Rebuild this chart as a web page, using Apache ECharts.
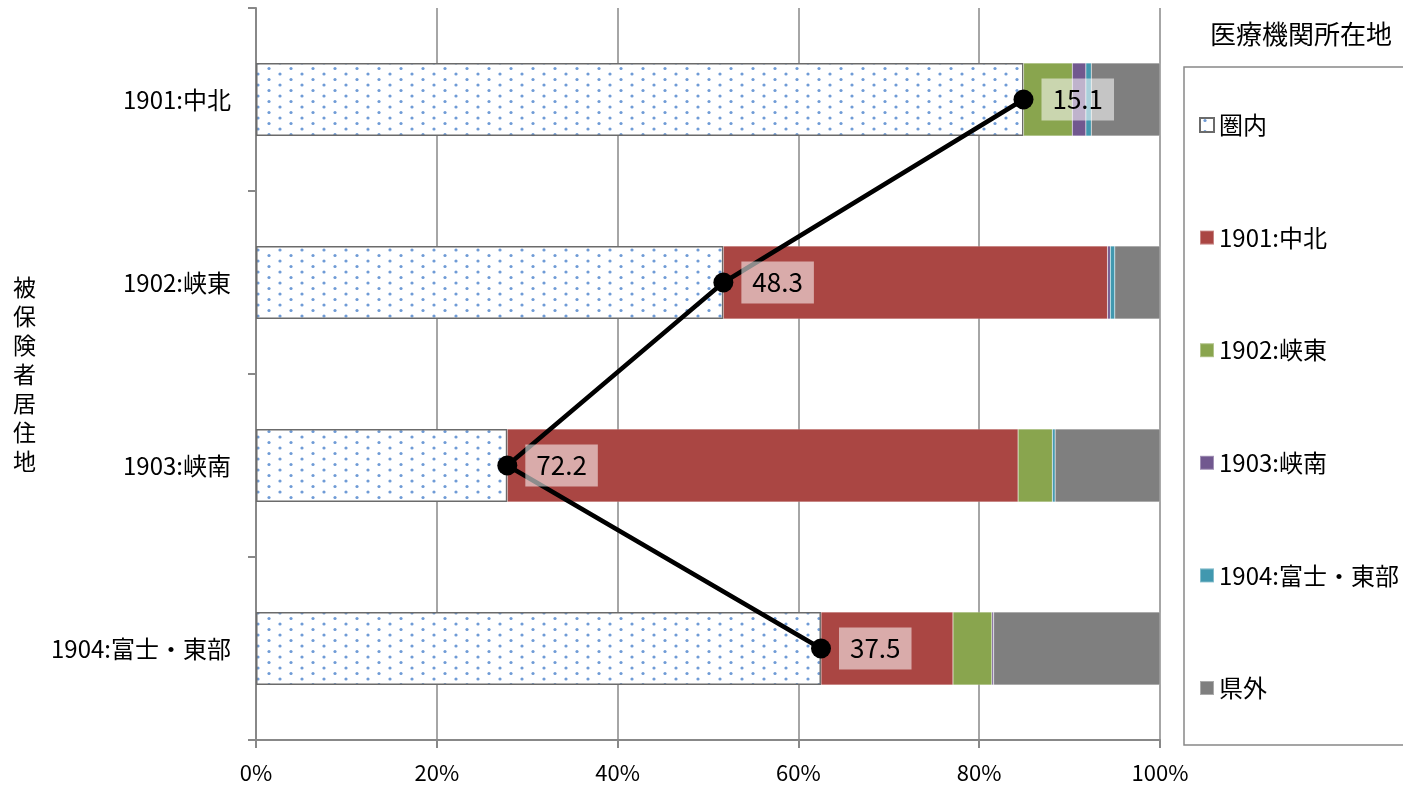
<!DOCTYPE html>
<html>
<head>
<meta charset="utf-8">
<script src="https://cdn.jsdelivr.net/npm/echarts@6/dist/echarts.min.js"></script>
<style>
  html, body { margin: 0; padding: 0; background: #fff; }
  #chart { width: 1403px; height: 790px; }
</style>
</head>
<body>
<div id="chart"></div>
<script>
// residence regions (rows) and hospital-location shares (%)
var regions = ["1901:中北", "1902:峡東", "1903:峡南", "1904:富士・東部"];
var seriesNames = ["圏内", "1901:中北", "1902:峡東", "1903:峡南", "1904:富士・東部", "県外"];
var inside = [84.9, 51.7, 27.8, 62.5];
var chuhoku = [0, 42.5, 56.5, 14.6];
var kyoto = [5.4, 0, 3.8, 4.3];
var kyonan = [1.5, 0.3, 0, 0.2];
var fujiTobu = [0.6, 0.5, 0.3, 0];
var kengai = [7.6, 5.0, 11.6, 18.4];
var outsideShare = [15.1, 48.3, 72.2, 37.5];
var xTicks = [0, 20, 40, 60, 80, 100];

var colors = ["#ffffff", "#AA4643", "#89A54E", "#71588F", "#4198AF", "#7F7F7F"];
var font = "'Noto Sans CJK JP', sans-serif";

// dotted fill for 圏内
var tile = document.createElement("canvas");
tile.width = 22; tile.height = 11;
var ctx = tile.getContext("2d");
ctx.fillStyle = "#ffffff";
ctx.fillRect(0, 0, 22, 11);
ctx.fillStyle = "#6f9bd6";
[[5, 2.5], [16, 8]].forEach(function (p) {
  ctx.beginPath();
  ctx.arc(p[0], p[1], 1.6, 0, Math.PI * 2);
  ctx.fill();
});
var dotted = { image: tile, repeat: "repeat" };

var values = [inside, chuhoku, kyoto, kyonan, fujiTobu, kengai];

var chart = echarts.init(document.getElementById("chart"));

var series = seriesNames.map(function (name, i) {
  return {
    name: name,
    type: "bar",
    stack: "total",
    barWidth: 73,
    data: values[i],
    itemStyle: i === 0
      ? { color: dotted, borderColor: "#6b6b6b", borderWidth: 1.5 }
      : { color: colors[i], borderColor: "rgba(255,255,255,0.35)", borderWidth: 0.5 },
    emphasis: { disabled: true }
  };
});

series.push({
  name: "line",
  type: "line",
  data: inside,
  symbol: "circle",
  symbolSize: 20,
  z: 5,
  lineStyle: { color: "#000", width: 4.5 },
  itemStyle: { color: "#000" },
  label: {
    show: true,
    position: "right",
    distance: 8,
    formatter: function (p) { return outsideShare[p.dataIndex].toFixed(1); },
    fontFamily: font,
    fontSize: 26,
    color: "#000",
    backgroundColor: "rgba(255,255,255,0.55)",
    padding: [9, 11, 7, 11]
  },
  emphasis: { disabled: true }
});

var option = {
  animation: false,
  textStyle: { fontFamily: font },
  title: {
    text: "医療機関所在地",
    left: 1296,
    textAlign: "center",
    top: 16,
    textStyle: { fontFamily: font, fontSize: 26, fontWeight: "normal", color: "#000" }
  },
  legend: {
    data: seriesNames,
    orient: "vertical",
    left: 1184,
    top: 67,
    icon: "rect",
    itemWidth: 14,
    itemHeight: 14,
    itemGap: 86.6,
    padding: [45, 60, 44, 15],
    borderColor: "#888",
    borderWidth: 1.5,
    textStyle: { fontFamily: font, fontSize: 24, color: "#000", lineHeight: 26 },
    selectedMode: false
  },
  grid: { left: 256, right: 243, top: 8, bottom: 50 },
  xAxis: {
    type: "value",
    min: 0,
    max: 100,
    interval: 20,
    axisLine: { show: true, lineStyle: { color: "#888", width: 2 } },
    axisTick: { show: true, length: 8, lineStyle: { color: "#888", width: 2 } },
    splitLine: { show: true, lineStyle: { color: "#888", width: 1.5 } },
    axisLabel: {
      formatter: "{value}%",
      margin: 22,
      fontSize: 22,
      color: "#000",
      fontFamily: font,
      customValues: xTicks
    }
  },
  yAxis: {
    type: "category",
    data: regions,
    inverse: true,
    name: "被保険者居住地".split("").join("\n"),
    nameLocation: "middle",
    nameRotate: 0,
    nameGap: 220,
    nameTextStyle: { fontSize: 23, color: "#000", fontFamily: font, lineHeight: 29 },
    axisLine: { show: true, lineStyle: { color: "#888", width: 2 } },
    axisTick: { show: true, length: 8, lineStyle: { color: "#888", width: 2 } },
    axisLabel: { margin: 25, fontSize: 24, color: "#000", fontFamily: font }
  },
  series: series
};

option && chart.setOption(option);
</script>
</body>
</html>
